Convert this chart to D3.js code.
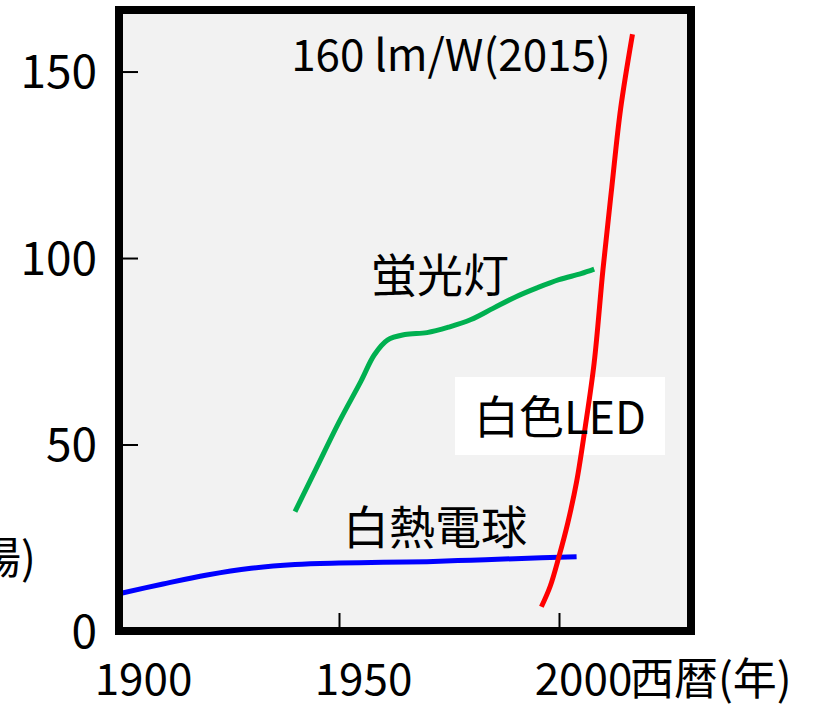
<!DOCTYPE html>
<html>
<head>
<meta charset="utf-8">
<script src="https://cdn.jsdelivr.net/npm/d3@7"></script>
<style>
  html, body { margin: 0; padding: 0; background: #ffffff; }
  svg { display: block; }
  text { font-family: "Noto Sans CJK JP", "Noto Sans", sans-serif; fill: #000; }
</style>
</head>
<body>
<svg id="chart" width="821" height="708"></svg>
<script>
// Luminous efficacy (lm/W) by year for three light sources
const incandescentYears  = [1900, 1910, 1920, 1930, 1940, 1950, 1960, 1970, 1980, 1990, 2004];
const incandescentValues = [10, 12.6, 15, 16.8, 17.8, 18.2, 18.4, 18.6, 19, 19.4, 19.9];

const fluorescentYears  = [1940, 1945, 1950, 1955, 1958, 1961, 1965, 1970, 1975, 1980, 1985, 1990, 1995, 2000, 2005, 2008];
const fluorescentValues = [32, 44, 56, 67, 74, 78, 79.5, 80, 81.5, 83.5, 86.5, 89.5, 92, 94.2, 95.8, 97];

const ledYears  = [1996, 1998, 2000, 2002, 2004, 2006, 2008, 2010, 2012, 2014, 2016.7];
const ledValues = [6.5, 12, 20, 29, 40, 55, 72, 97, 119, 140, 160];

const yTicks = [0, 50, 100, 150];
const xTicks = [1900, 1950, 2000];

const svg = d3.select("#chart");

const x = d3.scaleLinear().domain([1900, 2030]).range([119, 691]);
const y = d3.scaleLinear().domain([0, 166.5]).range([631, 10]);

// plot background
svg.append("rect")
  .attr("x", x(1900)).attr("y", y(166.5))
  .attr("width", x(2030) - x(1900)).attr("height", y(0) - y(166.5))
  .attr("fill", "#f2f2f2");

// axes with inward ticks
const yAxis = svg.append("g")
  .attr("transform", `translate(${x(1900)},0)`)
  .call(d3.axisLeft(y).tickValues(yTicks).tickSize(-19).tickPadding(22).tickFormat(d3.format("d")));
yAxis.select(".domain").remove();
yAxis.selectAll(".tick line").attr("stroke", "#000").attr("stroke-width", 2);
yAxis.selectAll(".tick text").attr("font-size", 46).attr("dy", "0.35em")
  .style("font-family", "'Noto Sans CJK JP', sans-serif");

const xAxis = svg.append("g")
  .attr("transform", `translate(0,${y(0)})`)
  .call(d3.axisBottom(x).tickValues(xTicks).tickSize(-18).tickFormat(d3.format("d")));
xAxis.select(".domain").remove();
xAxis.selectAll(".tick line").attr("stroke", "#000").attr("stroke-width", 2);
xAxis.selectAll(".tick text").attr("font-size", 44).attr("y", 64).attr("dy", 0).attr("dx", 24)
  .style("font-family", "'Noto Sans CJK JP', sans-serif");

svg.append("text")
  .attr("x", 630).attr("y", 695)
  .attr("font-size", 44)
  .text("西暦(年)");

// y axis title, mostly outside the left edge
svg.append("text")
  .attr("x", 36).attr("y", 574)
  .attr("text-anchor", "end")
  .attr("font-size", 44)
  .text("(太陽)");

const line = d3.line()
  .x(d => x(d[0]))
  .y(d => y(d[1]))
  .curve(d3.curveCatmullRom.alpha(0.5));

function series(years, values) { return years.map((yr, i) => [yr, values[i]]); }

svg.append("path")
  .datum(series(incandescentYears, incandescentValues))
  .attr("d", line).attr("fill", "none")
  .attr("stroke", "#0000ff").attr("stroke-width", 5);

svg.append("path")
  .datum(series(fluorescentYears, fluorescentValues))
  .attr("d", line).attr("fill", "none")
  .attr("stroke", "#00b050").attr("stroke-width", 5);

// label box for LED, drawn under the red line
svg.append("rect")
  .attr("x", 455).attr("y", 377).attr("width", 210).attr("height", 78)
  .attr("fill", "#ffffff");

svg.append("path")
  .datum(series(ledYears, ledValues))
  .attr("d", line).attr("fill", "none")
  .attr("stroke", "#ff0000").attr("stroke-width", 5);

// frame
svg.append("rect")
  .attr("x", x(1900)).attr("y", y(166.5))
  .attr("width", x(2030) - x(1900)).attr("height", y(0) - y(166.5))
  .attr("fill", "none").attr("stroke", "#000").attr("stroke-width", 8);

// series labels
svg.append("text").attr("x", 560).attr("y", 414).attr("text-anchor", "middle")
  .attr("dominant-baseline", "central").attr("font-size", 45).text("白色LED");
svg.append("text").attr("x", 440).attr("y", 272).attr("text-anchor", "middle")
  .attr("dominant-baseline", "central").attr("font-size", 46).text("蛍光灯");
svg.append("text").attr("x", 435).attr("y", 524).attr("text-anchor", "middle")
  .attr("dominant-baseline", "central").attr("font-size", 46).text("白熱電球");
svg.append("text").attr("x", 451).attr("y", 71).attr("text-anchor", "middle")
  .attr("font-size", 44).text("160 lm/W(2015)");
</script>
</body>
</html>
